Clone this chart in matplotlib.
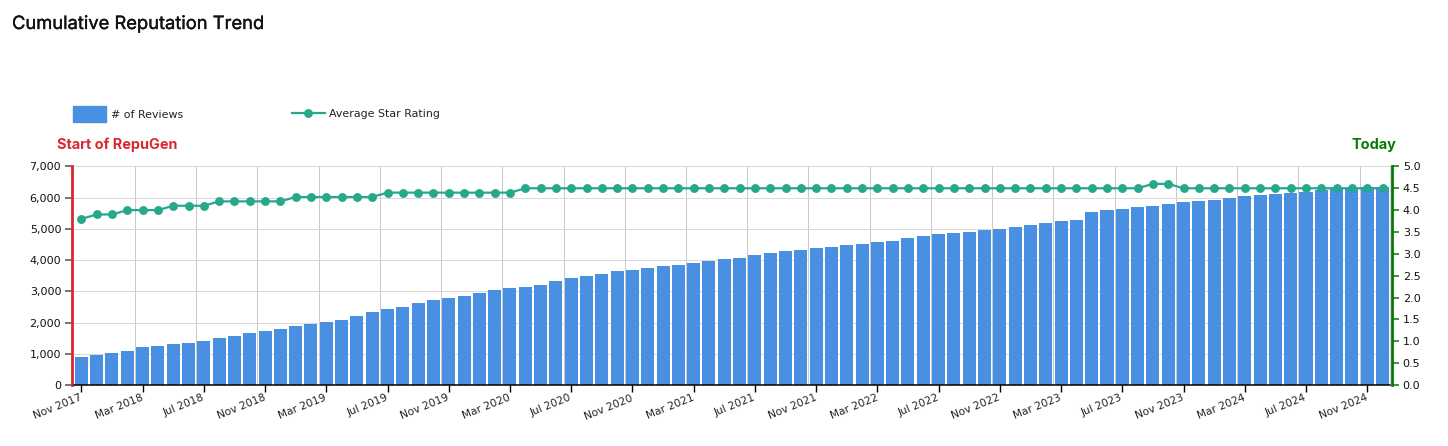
import matplotlib
matplotlib.use("Agg")
import matplotlib.pyplot as plt
import matplotlib.patheffects as pe
from matplotlib.legend_handler import HandlerPatch
from matplotlib.patches import Patch
import numpy as np

reviews = [900, 960, 1025, 1090, 1215, 1250, 1310, 1345, 1410, 1505, 1570, 1665, 1730, 1790, 1890, 1950,
           2015, 2080, 2210, 2335, 2430, 2495, 2625, 2720, 2785, 2850, 2945, 3040, 3105, 3135, 3200, 3330,
           3425, 3490, 3555, 3650, 3680, 3745, 3810, 3840, 3905, 3970, 4035, 4065, 4160, 4225, 4290, 4320,
           4385, 4420, 4480, 4515, 4580, 4610, 4705, 4770, 4835, 4870, 4910, 4975, 5005, 5070, 5135, 5200,
           5260, 5295, 5550, 5615, 5645, 5710, 5740, 5805, 5870, 5900, 5935, 6000, 6060, 6095, 6125, 6160,
           6190, 6255, 6285, 6310, 6330, 6350]
stars = [3.8, 3.9, 3.9, 4.0, 4.0, 4.0, 4.1, 4.1, 4.1, 4.2, 4.2, 4.2, 4.2, 4.2, 4.3, 4.3, 4.3, 4.3, 4.3, 4.3,
         4.4, 4.4, 4.4, 4.4, 4.4, 4.4, 4.4, 4.4, 4.4] + [4.5] * 41 + [4.6, 4.6] + [4.5] * 14
tick_labels = ["Nov 2017", "Mar 2018", "Jul 2018", "Nov 2018", "Mar 2019", "Jul 2019", "Nov 2019", "Mar 2020",
               "Jul 2020", "Nov 2020", "Mar 2021", "Jul 2021", "Nov 2021", "Mar 2022", "Jul 2022", "Nov 2022",
               "Mar 2023", "Jul 2023", "Nov 2023", "Mar 2024", "Jul 2024", "Nov 2024"]
left_ticks = [0, 1000, 2000, 3000, 4000, 5000, 6000, 7000]
right_ticks = [0.0, 0.5, 1.0, 1.5, 2.0, 2.5, 3.0, 3.5, 4.0, 4.5, 5.0]

BLUE, TEAL, RED, GREEN = "#4A90E2", "#27A88C", "#D9282F", "#057A05"
W, H = 1448, 446
fig = plt.figure(figsize=(W / 100, H / 100), dpi=100)
L, R, T, B = 73.7, 1390.2, 166.4, 385.0
ax = fig.add_axes([L / W, 1 - B / H, (R - L) / W, (B - T) / H])
x = np.arange(len(reviews))
ax.bar(x, reviews, width=0.85, color=BLUE, zorder=2)
ax.set_xlim(-0.5, len(reviews) - 0.5)
ax.set_ylim(0, 7000)
ax.set_yticks(left_ticks)
ax.set_yticklabels([f"{v:,}" for v in left_ticks])
major = x[::4]
ax.set_xticks(major)
ax.set_xticklabels(tick_labels, rotation=22, ha="right", va="center", rotation_mode="anchor")
ax.set_xticks(major[1:] - 0.5, minor=True)
ax.tick_params(axis="x", which="minor", length=0)
ax.tick_params(axis="x", which="major", length=5, width=1, color="black", labelsize=7.7, pad=4, labelcolor="#222222")
ax.tick_params(axis="y", length=5, width=1.1, color="#5A4A4A", labelsize=8, pad=3, labelcolor="#111111")
for i in (0, -1):
    ax.yaxis.get_major_ticks()[i].tick1line.set_color(RED)
ax.set_axisbelow(True)
ax.grid(axis="y", color="#D8D8D8", lw=0.7)
ax.grid(axis="x", which="minor", color="#C8C8C8", lw=0.7)
for s in ["top", "right"]:
    ax.spines[s].set_color("#D8D8D8")
    ax.spines[s].set_linewidth(0.7)
ax.spines["bottom"].set_color("black")
ax.spines["bottom"].set_linewidth(1.1)
ax.spines["left"].set_color(RED)
ax.spines["left"].set_linewidth(2.0)
ax.spines["left"].set_position(("outward", 1))

ax2 = ax.twinx()
line, = ax2.plot(x, stars, color=TEAL, lw=1.6, marker="o", ms=6.4, mew=0, zorder=3)
ax2.set_ylim(0, 5)
ax2.set_yticks(right_ticks)
ax2.set_yticklabels([f"{v:.1f}" for v in right_ticks])
ax2.tick_params(axis="y", length=5, width=1.1, color=GREEN, labelsize=8, pad=3, labelcolor="#111111")
for s in ["top", "left", "bottom"]:
    ax2.spines[s].set_visible(False)
ax2.spines["right"].set_color(GREEN)
ax2.spines["right"].set_linewidth(2.0)
ax2.spines["right"].set_position(("outward", 1))

swatch = Patch(color=BLUE)
common = dict(loc="lower left", borderaxespad=0, borderpad=0, frameon=False, fontsize=7.9,
              handlelength=3, labelcolor="#222222")
leg1 = fig.legend([swatch], ["# of Reviews"], bbox_to_anchor=(73 / W, 1 - 124 / H), handleheight=2.2,
                  handletextpad=0.45, handler_map={swatch: HandlerPatch(ypad=0.18)}, **common)
leg2 = fig.legend([line], ["Average Star Rating"], bbox_to_anchor=(292 / W, 1 - 119 / H), handleheight=0.7,
                  handletextpad=0.33, **common)

stroke = [pe.withStroke(linewidth=0.25, foreground="#111111")]
fig.text(12 / W, 1 - 29 / H, "Cumulative Reputation Trend", family="Inter", fontsize=13.2, color="#111111", path_effects=stroke)
fig.text(57 / W, 1 - 149 / H, "Start of RepuGen", family="Inter", fontsize=10.4, weight="bold", color=RED)
fig.text(1396 / W, 1 - 149 / H, "Today", family="Inter", fontsize=10.4, weight="bold", color=GREEN, ha="right")
fig.savefig("out.png", dpi=100)
